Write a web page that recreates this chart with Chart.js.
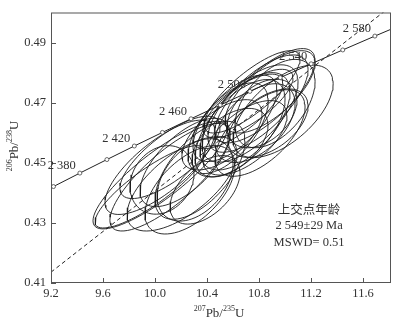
<!DOCTYPE html>
<html>
<head>
<meta charset="utf-8">
<script src="https://cdn.jsdelivr.net/npm/chart.js@4"></script>
<style>body{margin:0;background:#fff}</style>
</head>
<body>
<canvas id="concordia" width="400" height="325"></canvas>
<script>
const xTicks = [9.2, 9.6, 10.0, 10.4, 10.8, 11.2, 11.6];
const yTicks = [0.41, 0.43, 0.45, 0.47, 0.49];

// concordia curve, one marker every 20 Ma
const concAge = [2360, 2380, 2400, 2420, 2440, 2460, 2480, 2500, 2520, 2540, 2560, 2580, 2600];
const concX = [9.219, 9.422, 9.630, 9.841, 10.057, 10.277, 10.501, 10.730, 10.963, 11.201, 11.444, 11.691, 11.944];
const concY = [0.44209, 0.44657, 0.45107, 0.45558, 0.46010, 0.46464, 0.46919, 0.47375, 0.47833, 0.48293, 0.48754, 0.49216, 0.49679];
const labelAges = [2380, 2420, 2460, 2500, 2540, 2580];

// discordia (dashed)
const discX = [9.2, 11.815];
const discY = [0.4136, 0.5021];

// error ellipses: centre, half extents, correlation
const ellX = [10.985, 10.846, 10.792, 10.731, 10.692, 10.769, 10.654, 10.823, 10.885, 10.715,
  10.615, 10.692, 10.562, 10.808, 10.923, 10.638, 10.746, 10.577, 10.869, 10.515,
  10.038, 10.115, 10.208, 10.038, 10.269, 10.115, 10.308, 10.054, 10.385, 9.962,
  10.231, 10.346];
const ellY = [0.4671, 0.4723, 0.4697, 0.4664, 0.4638, 0.4632, 0.4615, 0.4664, 0.4736, 0.4697,
  0.4648, 0.4583, 0.4615, 0.4599, 0.4697, 0.4671, 0.4736, 0.4567, 0.4632, 0.4593,
  0.4459, 0.4452, 0.4430, 0.4485, 0.4410, 0.4518, 0.4443, 0.4443, 0.4410, 0.4420,
  0.4501, 0.4475];
const ellSx = [0.385, 0.385, 0.385, 0.369, 0.346, 0.308, 0.346, 0.269, 0.346, 0.346,
  0.323, 0.323, 0.308, 0.346, 0.308, 0.346, 0.369, 0.292, 0.308, 0.308,
  0.515, 0.462, 0.423, 0.423, 0.346, 0.385, 0.292, 0.246, 0.269, 0.423,
  0.346, 0.346];
const ellSy = [0.0154, 0.0157, 0.0162, 0.0162, 0.0162, 0.0131, 0.0162, 0.0114, 0.0137, 0.0114,
  0.0144, 0.0124, 0.0151, 0.0144, 0.0147, 0.0124, 0.0137, 0.0114, 0.0114, 0.0117,
  0.0179, 0.0179, 0.0157, 0.0157, 0.0147, 0.0137, 0.0137, 0.0114, 0.0114, 0.0137,
  0.0147, 0.0163];
const ellRho = [0.6, 0.75, 0.7, 0.65, 0.6, 0.5, 0.6, 0.4, 0.7, 0.75,
  0.65, 0.6, 0.6, 0.6, 0.5, 0.75, 0.8, 0.5, 0.5, 0.6,
  0.85, 0.8, 0.65, 0.75, 0.55, 0.75, 0.4, 0.2, 0.5, 0.85,
  0.65, 0.6];

const resultText = ['上交点年龄', '2 549±29 Ma', 'MSWD= 0.51'];
const resultPos = [11.185, 0.4289];

const serif = 'Liberation Serif';
const ink = '#333';

function ellipsePoints(i) {
  const pts = [];
  const k = Math.sqrt(1 - ellRho[i] * ellRho[i]);
  for (let j = 0; j <= 72; j++) {
    const t = j / 72 * 2 * Math.PI;
    pts.push({
      x: ellX[i] + ellSx[i] * Math.cos(t),
      y: ellY[i] + ellSy[i] * (ellRho[i] * Math.cos(t) + k * Math.sin(t))
    });
  }
  return pts;
}

const datasets = [
  {
    data: concX.map((x, i) => ({ x: x, y: concY[i] })),
    showLine: true,
    borderColor: '#222',
    borderWidth: 1,
    pointRadius: 2,
    pointBackgroundColor: '#fff',
    pointBorderColor: '#444',
    pointBorderWidth: 0.8
  },
  {
    data: discX.map((x, i) => ({ x: x, y: discY[i] })),
    showLine: true,
    borderColor: '#222',
    borderWidth: 1,
    borderDash: [4, 3],
    pointRadius: 0
  }
];
for (let i = 0; i < ellX.length; i++) {
  datasets.push({
    data: ellipsePoints(i),
    showLine: true,
    borderColor: '#1a1a1a',
    borderWidth: 0.9,
    pointRadius: 0
  });
}

// isotope ratio label with superscripts, centred on 0,0
function isoLabel(c, parts) {
  const big = '13px "' + serif + '"';
  const small = '8px "' + serif + '"';
  let w = 0;
  parts.forEach(p => { c.font = p[1] ? small : big; w += c.measureText(p[0]).width; });
  let x = -w / 2;
  c.textAlign = 'left';
  c.textBaseline = 'middle';
  parts.forEach(p => {
    c.font = p[1] ? small : big;
    c.fillText(p[0], x, p[1] ? -5 : 0);
    x += c.measureText(p[0]).width;
  });
}

const decorations = {
  id: 'decorations',
  afterDraw(chart) {
    const c = chart.ctx;
    const a = chart.chartArea;
    const sx = chart.scales.x;
    const sy = chart.scales.y;
    c.save();
    // frame and inward ticks
    c.strokeStyle = '#555';
    c.lineWidth = 1;
    c.strokeRect(a.left + 0.5, a.top + 0.5, a.right - a.left - 1, a.bottom - a.top - 1);
    c.beginPath();
    xTicks.forEach(v => {
      const p = Math.round(sx.getPixelForValue(v)) + 0.5;
      c.moveTo(p, a.bottom); c.lineTo(p, a.bottom - 5);
    });
    yTicks.forEach(v => {
      const p = Math.round(sy.getPixelForValue(v)) + 0.5;
      c.moveTo(a.left, p); c.lineTo(a.left + 5, p);
    });
    c.stroke();

    // concordia age labels
    c.fillStyle = ink;
    c.font = '12.5px "' + serif + '"';
    c.textAlign = 'right';
    c.textBaseline = 'middle';
    labelAges.forEach(age => {
      const i = concAge.indexOf(age);
      const px = sx.getPixelForValue(concX[i]);
      const py = sy.getPixelForValue(concY[i]);
      const s = String(age);
      c.fillText(s[0] + ' ' + s.slice(1), px - 4, py - 7);
    });

    // result block
    const rx = sx.getPixelForValue(resultPos[0]);
    const ry = sy.getPixelForValue(resultPos[1]);
    c.textAlign = 'center';
    c.font = '12.5px "Noto Sans CJK SC"';
    c.fillText(resultText[0], rx, ry - 17);
    c.font = '12.5px "' + serif + '"';
    c.fillText(resultText[1], rx, ry);
    c.fillText(resultText[2], rx, ry + 17);

    // axis titles
    c.save();
    c.translate((a.left + a.right) / 2 - 2, 314);
    isoLabel(c, [['207', true], ['Pb/', false], ['235', true], ['U', false]]);
    c.restore();
    c.save();
    c.translate(15, 146);
    c.rotate(-Math.PI / 2);
    isoLabel(c, [['206', true], ['Pb/', false], ['238', true], ['U', false]]);
    c.restore();
    c.restore();
  }
};

new Chart(document.getElementById('concordia'), {
  type: 'scatter',
  data: { datasets: datasets },
  options: {
    responsive: false,
    animation: false,
    layout: { padding: { top: 8, right: 9, left: 0, bottom: 0 } },
    plugins: { legend: { display: false }, tooltip: { enabled: false } },
    scales: {
      x: {
        type: 'linear',
        min: 9.2,
        max: 11.815,
        afterFit: s => { s.height = 42; },
        afterBuildTicks: s => { s.ticks = xTicks.map(v => ({ value: v })); },
        grid: { display: false, drawTicks: false },
        border: { display: false },
        ticks: {
          color: ink,
          padding: 3,
          autoSkip: false,
          maxRotation: 0,
          font: { family: serif, size: 12.5 },
          callback: v => v.toFixed(1)
        }
      },
      y: {
        type: 'linear',
        min: 0.41,
        max: 0.50,
        afterFit: s => { s.width = 51; },
        afterBuildTicks: s => { s.ticks = yTicks.map(v => ({ value: v })); },
        grid: { display: false, drawTicks: false },
        border: { display: false },
        ticks: {
          color: ink,
          padding: 5,
          font: { family: serif, size: 12.5 },
          callback: v => v.toFixed(2)
        }
      }
    }
  },
  plugins: [decorations]
});
</script>
</body>
</html>
